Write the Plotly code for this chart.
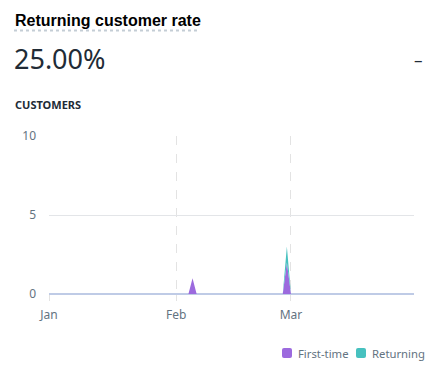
import plotly.graph_objects as go

# Data
dates = ["2023-01-01", "2023-02-04", "2023-02-05", "2023-02-06",
         "2023-02-27", "2023-02-28", "2023-03-01", "2023-03-31"]
first_time = [0, 0, 1, 0, 0, 2, 0, 0]
returning = [0, 0, 0, 0, 0, 1, 0, 0]
series_names = ["First-time", "Returning"]
series_colors = ["#9c6ade", "#47c1bf"]
tick_dates = ["2023-01-01", "2023-02-01", "2023-03-01"]
tick_labels = ["Jan", "Feb", "Mar"]
y_ticks = [0, 5, 10]

W, H = 436, 376
L, R, T, B = 49, 414, 136, 294

def px(x):
    return (x - L) / (R - L)

def py(y):
    return (B - y) / (B - T)

fig = go.Figure()
for name, vals, col in zip(series_names, [first_time, returning], series_colors):
    fig.add_trace(go.Scatter(
        x=dates, y=vals, name=name, stackgroup="one", mode="lines",
        line=dict(width=0, color=col), fillcolor=col, opacity=0.85,
        showlegend=False, hoverinfo="skip"))

fig.update_layout(
    width=W, height=H,
    margin=dict(l=L, r=W - R, t=T, b=H - B),
    paper_bgcolor="white", plot_bgcolor="white",
    font=dict(family="Noto Sans", color="#637381", size=12),
    xaxis=dict(
        type="date", range=["2023-01-01", "2023-03-31"],
        tickvals=tick_dates, ticktext=tick_labels,
        showgrid=True, gridcolor="#e3e3e3", griddash="dash", gridwidth=1,
        ticks="outside", ticklen=6, tickcolor="#e3e3e3",
        ticklabelstandoff=4,
        showline=False, zeroline=False, fixedrange=True,
        tickfont=dict(size=12, color="#637381"),
    ),
    yaxis=dict(
        range=[0, 10], tickvals=y_ticks,
        showgrid=True, gridcolor="#e3e5e8", gridwidth=1,
        zeroline=True, zerolinecolor="#bfcbe6", zerolinewidth=1.5,
        ticks="", ticklabelstandoff=12, fixedrange=True,
        tickfont=dict(size=12, color="#637381"),
    ),
    showlegend=False,
)

# Manual legend
legend_x = [282, 356]
for name, col, lx in zip(series_names, series_colors, legend_x):
    x0, x1 = lx, lx + 10
    y0, y1 = 348, 358
    r = 2
    path = (f"M {px(x0 + r)},{py(y0)} L {px(x1 - r)},{py(y0)} "
            f"Q {px(x1)},{py(y0)} {px(x1)},{py(y0 + r)} "
            f"L {px(x1)},{py(y1 - r)} Q {px(x1)},{py(y1)} {px(x1 - r)},{py(y1)} "
            f"L {px(x0 + r)},{py(y1)} Q {px(x0)},{py(y1)} {px(x0)},{py(y1 - r)} "
            f"L {px(x0)},{py(y0 + r)} Q {px(x0)},{py(y0)} {px(x0 + r)},{py(y0)} Z")
    fig.add_shape(type="path", xref="paper", yref="paper", path=path,
                  fillcolor=col, line=dict(width=0))
    fig.add_annotation(
        text=name, xref="paper", yref="paper",
        x=px(x1 + 4), y=py(353.5), xanchor="left", yanchor="middle",
        showarrow=False, font=dict(family="Noto Sans", size=11.3, color="#637381"))

fig.add_annotation(
    text="<b>Returning customer rate</b>", xref="paper", yref="paper",
    x=px(13), y=py(20), xanchor="left", yanchor="middle", showarrow=False,
    font=dict(family="Liberation Sans", size=16, color="#000000"))
fig.add_shape(type="line", xref="paper", yref="paper",
              x0=px(14), x1=px(200), y0=py(30.5), y1=py(30.5),
              line=dict(color="#c4cdd5", width=2, dash="dot"))
fig.add_annotation(
    text="25.00%", xref="paper", yref="paper",
    x=px(12), y=py(58), xanchor="left", yanchor="middle", showarrow=False,
    font=dict(family="Noto Sans", size=27, color="#212b36"))
fig.add_annotation(
    text="–", xref="paper", yref="paper",
    x=px(418), y=py(59), xanchor="center", yanchor="middle", showarrow=False,
    font=dict(family="Noto Sans", size=17, color="#212b36"))
fig.add_annotation(
    text="<b>CUSTOMERS</b>", xref="paper", yref="paper",
    x=px(13), y=py(104), xanchor="left", yanchor="middle", showarrow=False,
    font=dict(family="Noto Sans", size=11, color="#212b36"))

fig.write_html("out.html")
